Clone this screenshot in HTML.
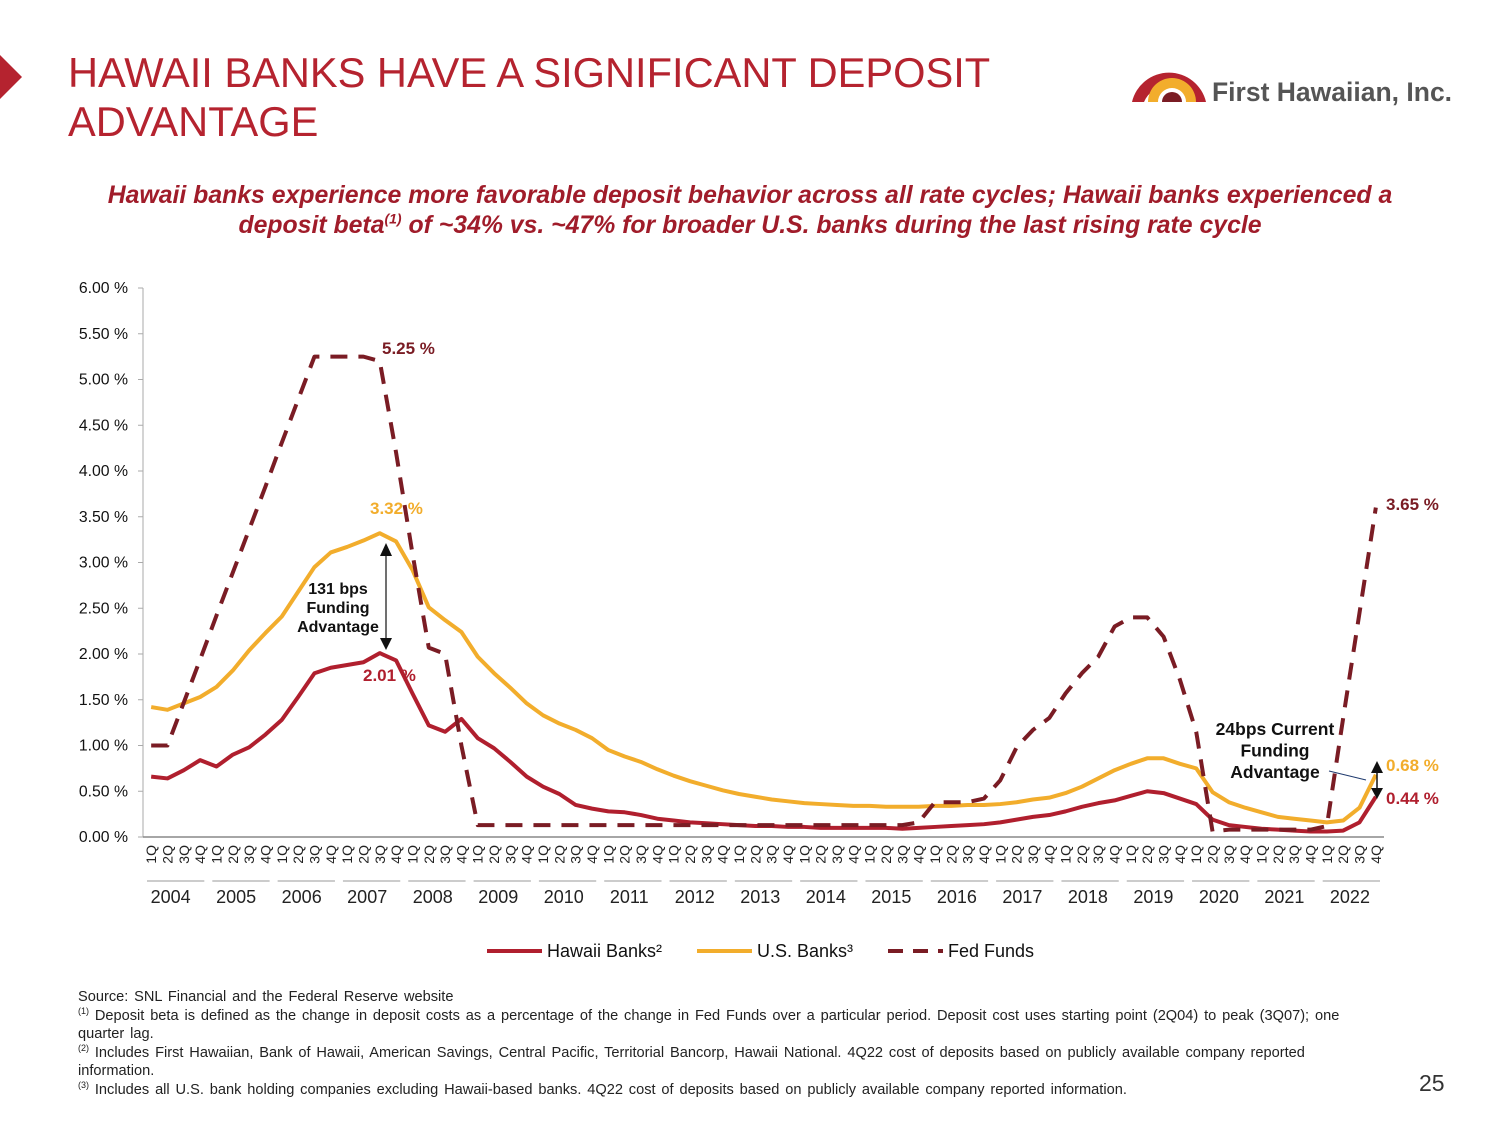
<!DOCTYPE html>
<html><head><meta charset="utf-8"><style>
body{margin:0;width:1500px;height:1125px;background:#fff;font-family:"Liberation Sans",sans-serif;overflow:hidden;position:relative}
.t{position:absolute;white-space:nowrap}
sup{line-height:0}
</style></head><body>
<div class="t" style="left:0;top:55px;width:0;height:0;border-top:22px solid transparent;border-bottom:22px solid transparent;border-left:22px solid #b5232f"></div>
<div class="t" style="left:68px;top:48px;font-size:41.6px;line-height:49px;color:#b5232f">HAWAII BANKS HAVE A SIGNIFICANT DEPOSIT<br>ADVANTAGE</div>
<svg class="t" style="left:1130px;top:62px" width="80" height="42" viewBox="0 0 80 42"><path d="M2 40 A38 38 0 0 1 76 40 L62 40 A26 26 0 0 0 14 40Z" fill="#b5232f"/><path d="M18 40 A24 24 0 0 1 66 40 L56 40 A14 14 0 0 0 28 40Z" fill="#f2ad2c"/><path d="M32 40 A10 10 0 0 1 52 40Z" fill="#7a1c24"/></svg>
<div class="t" style="left:1212px;top:77px;font-size:26.5px;color:#555;font-weight:bold">First Hawaiian, Inc.</div>
<div class="t" style="left:0;width:1500px;top:181px;text-align:center;font-size:24.8px;line-height:30px;color:#a01c2a;font-weight:bold;font-style:italic">Hawaii banks experience more favorable deposit behavior across all rate cycles; Hawaii banks experienced a<br>deposit beta<sup style="font-size:14px">(1)</sup> of ~34% vs. ~47% for broader U.S. banks during the last rising rate cycle</div>
<svg id="chart" class="t" style="left:0;top:0" width="1500" height="1125"></svg>
<div class="t" style="left:78px;top:988px;font-size:14.6px;line-height:18.6px;color:#222;width:1285px;white-space:normal;word-spacing:1.8px">Source: SNL Financial and the Federal Reserve website<br><sup style="font-size:9px">(1)</sup> Deposit beta is defined as the change in deposit costs as a percentage of the change in Fed Funds over a particular period. Deposit cost uses starting point (2Q04) to peak (3Q07); one quarter lag.<br><sup style="font-size:9px">(2)</sup> Includes First Hawaiian, Bank of Hawaii, American Savings, Central Pacific, Territorial Bancorp, Hawaii National. 4Q22 cost of deposits based on publicly available company reported information.<br><sup style="font-size:9px">(3)</sup> Includes all U.S. bank holding companies excluding Hawaii-based banks. 4Q22 cost of deposits based on publicly available company reported information.</div>
<div class="t" style="left:1419px;top:1070px;font-size:23px;color:#333">25</div>
<script>
const years=["2004","2005","2006","2007","2008","2009","2010","2011","2012","2013","2014","2015","2016","2017","2018","2019","2020","2021","2022"];
const quarters=["1Q","2Q","3Q","4Q"];
const yTicks=[0,0.5,1,1.5,2,2.5,3,3.5,4,4.5,5,5.5,6];
const hawaii=[0.66,0.64,0.73,0.84,0.77,0.9,0.98,1.12,1.28,1.53,1.79,1.85,1.88,1.91,2.01,1.93,1.57,1.22,1.15,1.29,1.08,0.97,0.82,0.66,0.55,0.47,0.35,0.31,0.28,0.27,0.24,0.2,0.18,0.16,0.15,0.14,0.13,0.12,0.12,0.11,0.11,0.1,0.1,0.1,0.1,0.1,0.09,0.1,0.11,0.12,0.13,0.14,0.16,0.19,0.22,0.24,0.28,0.33,0.37,0.4,0.45,0.5,0.48,0.42,0.36,0.19,0.13,0.11,0.09,0.08,0.07,0.06,0.06,0.07,0.16,0.44];
const usBanks=[1.42,1.39,1.46,1.53,1.64,1.82,2.04,2.23,2.41,2.68,2.95,3.11,3.17,3.24,3.32,3.23,2.92,2.51,2.37,2.24,1.97,1.79,1.63,1.46,1.33,1.24,1.17,1.08,0.95,0.88,0.82,0.74,0.67,0.61,0.56,0.51,0.47,0.44,0.41,0.39,0.37,0.36,0.35,0.34,0.34,0.33,0.33,0.33,0.34,0.34,0.35,0.35,0.36,0.38,0.41,0.43,0.48,0.55,0.64,0.73,0.8,0.86,0.86,0.8,0.75,0.49,0.38,0.32,0.27,0.22,0.2,0.18,0.16,0.18,0.32,0.68];
const fedFunds=[1,1,1.47,1.94,2.42,2.89,3.36,3.83,4.31,4.78,5.25,5.25,5.25,5.25,5.2,4.2,3.1,2.07,2.0,1.0,0.13,0.13,0.13,0.13,0.13,0.13,0.13,0.13,0.13,0.13,0.13,0.13,0.13,0.13,0.13,0.13,0.13,0.13,0.13,0.13,0.13,0.13,0.13,0.13,0.13,0.13,0.13,0.16,0.38,0.38,0.38,0.42,0.62,0.98,1.17,1.3,1.57,1.79,1.97,2.3,2.4,2.4,2.19,1.72,1.15,0.06,0.08,0.08,0.08,0.08,0.08,0.08,0.12,1.3,2.45,3.6];
const svg=document.getElementById('chart');const NS='http://www.w3.org/2000/svg';
const X0=143,X1=1384,Y0=837,Y1=288,N=76;
const qw=(X1-X0)/N;
function xs(i){return X0+qw*(i+0.5);}
function ys(v){return Y0-(v/6)*(Y0-Y1);}
function mk(tag,attrs,txt){const e=document.createElementNS(NS,tag);for(const k in attrs)e.setAttribute(k,attrs[k]);if(txt!==undefined)e.textContent=txt;svg.appendChild(e);return e;}
let e;
e=mk('line',{x1:X0,y1:Y1,x2:X0,y2:Y0,stroke:'#aaa','stroke-width':1});


e=mk('line',{x1:X0,y1:Y0,x2:X1,y2:Y0,stroke:'#888','stroke-width':1.5});


yTicks.forEach(v=>{
 mk('line',{x1:X0-5,y1:ys(v),x2:X0,y2:ys(v),stroke:'#aaa'});
 e=mk('text',{x:128,y:ys(v)+5,'text-anchor':'end','font-size':15.8,fill:'#111'},v.toFixed(2)+' %');
 
 
});
years.forEach((y,yi)=>{
 quarters.forEach((q,qi)=>{
  const i=yi*4+qi;const x=xs(i);
  e=mk('text',{transform:`translate(${x+5},${845}) rotate(-90)`,'text-anchor':'end','font-size':14,fill:'#222'},q);
  
  
 });
 const a=X0+qw*yi*4+4,b=X0+qw*(yi*4+4)-4;
 mk('line',{x1:a,y1:881,x2:b,y2:881,stroke:'#999'});
 e=mk('text',{x:(a+b)/2-5+yi*0.2,y:903,'text-anchor':'middle','font-size':18,fill:'#222'},y);
 
 
});
function series(arr,color,dash,name){
 const p=mk('polyline',{points:arr.map((v,i)=>xs(i)+','+ys(v)).join(' '),fill:'none',stroke:color,'stroke-width':4,'stroke-linejoin':'round'});
 if(dash)p.setAttribute('stroke-dasharray',dash);
 
 
}
series(usBanks,'#f2ad2c',null,'us-banks-line');
series(hawaii,'#b01f2e',null,'hawaii-banks-line');
series(fedFunds,'#7a1c24','17 11','fed-funds-line');
function lbl(x,y,t,c,n,size,anchor){e=mk('text',{x:x,y:y,'font-size':size||17,'font-weight':'bold',fill:c,'text-anchor':anchor||'start'},t);}
lbl(382,354,'5.25 %','#7a1c24','fed-peak-label');
lbl(370,514,'3.32 %','#f2ad2c','us-peak-label');
lbl(363,681,'2.01 %','#b01f2e','hawaii-peak-label');
lbl(1386,510,'3.65 %','#7a1c24','fed-current-label');
lbl(1386,771,'0.68 %','#f2ad2c','us-current-label');
lbl(1386,804,'0.44 %','#b01f2e','hawaii-current-label');
['131 bps','Funding','Advantage'].forEach((t,i)=>lbl(338,594+i*19,t,'#111','funding-advantage-2007',16,'middle'));
['24bps Current','Funding','Advantage'].forEach((t,i)=>lbl(1275,735+i*21.5,t,'#111','funding-advantage-current',17.5,'middle'));
mk('line',{x1:386,y1:554,x2:386,y2:640,stroke:'#111','stroke-width':1.2});
mk('polygon',{points:'380,556 392,556 386,543',fill:'#111'});
mk('polygon',{points:'380,638 392,638 386,650',fill:'#111'});
mk('line',{x1:1329,y1:771,x2:1366,y2:780,stroke:'#1f3a6e','stroke-width':1});
mk('line',{x1:1377,y1:770,x2:1377,y2:790,stroke:'#111','stroke-width':1.5});
mk('polygon',{points:'1371,773 1383,773 1377,761',fill:'#111'});
mk('polygon',{points:'1371,788 1383,788 1377,799',fill:'#111'});
function leg(x,color,dash,t,n){
 const l=mk('line',{x1:x,y1:951,x2:x+55,y2:951,stroke:color,'stroke-width':4});
 if(dash)l.setAttribute('stroke-dasharray',dash);
 e=mk('text',{x:x+60,y:957,'font-size':18,fill:'#111'},t);
 
 
}
leg(487,'#b01f2e',null,'Hawaii Banks²','legend-hawaii-banks');
leg(697,'#f2ad2c',null,'U.S. Banks³','legend-us-banks');
leg(888,'#7a1c24','15 10','Fed Funds','legend-fed-funds');
</script>
</body></html>
